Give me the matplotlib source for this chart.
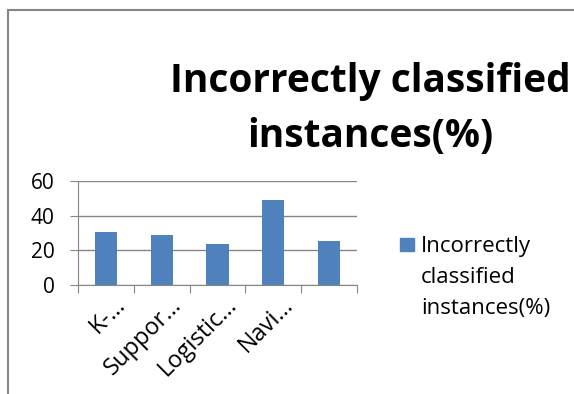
import numpy as np
import matplotlib.pyplot as plt
from matplotlib.patches import Rectangle
from matplotlib.transforms import ScaledTranslation

labels = ['K-…', 'Suppor…', 'Logistic…', 'Navi…', '']
values = [30.6, 28.9, 23.6, 49.1, 25.4]
series_name = ['Incorrectly', 'classified', 'instances(%)']

plt.rcParams['font.family'] = ['Open Sans', 'DejaVu Sans']
grey = '#868686'
blue = '#4F81BD'

fig = plt.figure(figsize=(5.74, 3.94), dpi=100)

# outer chart border, running off the right and bottom edges
fig.patches.append(Rectangle((8 / 574, -0.1), 1.2, 1 - 10 / 394 + 0.1,
                             transform=fig.transFigure, fill=False,
                             edgecolor=grey, linewidth=1.5))

ax = fig.add_axes([78 / 574, 1 - 285 / 394, 279 / 574, 104 / 394])
x = np.arange(len(values))
ax.bar(x, values, width=0.4, color=blue, zorder=3)
ax.set_xlim(-0.5, len(values) - 0.5)
ax.set_ylim(0, 60)
ax.set_yticks([0, 20, 40, 60])
ax.grid(axis='y', color=grey, linewidth=1, zorder=0)
for s in ['top', 'right']:
    ax.spines[s].set_visible(False)
for s in ['left', 'bottom']:
    ax.spines[s].set_color(grey)
ax.tick_params(axis='y', length=5.8, color=grey, labelsize=15, pad=11)

# category boundaries get the tick marks, centres get the labels
ax.set_xticks(np.arange(-0.5, len(values) + 0.5, 1))
ax.set_xticklabels([])
ax.tick_params(axis='x', length=5.8, color=grey, direction='out')
ax.set_xticks(x, minor=True)
ax.set_xticklabels(labels, minor=True, rotation=45, ha='right', va='center',
                   rotation_mode='anchor', fontsize=17)
ax.tick_params(axis='x', which='minor', length=0, pad=12)
shift = ScaledTranslation(0.16, 0, fig.dpi_scale_trans)
for t in ax.get_xticklabels(minor=True):
    t.set_transform(t.get_transform() + shift)

fig.text(0.645, 1 - 92 / 394, 'Incorrectly classified', ha='center',
         va='baseline', fontsize=28, fontweight='bold')
fig.text(0.645, 1 - 147 / 394, 'instances(%)', ha='center',
         va='baseline', fontsize=28, fontweight='bold')

# legend
fig.patches.append(Rectangle((400 / 574, 1 - 251 / 394), 14 / 574, 13 / 394,
                             transform=fig.transFigure, color=blue))
for i, line in enumerate(series_name):
    fig.text(421 / 574, 1 - (252 + 31 * i) / 394, line, ha='left',
             va='baseline', fontsize=16)

fig.savefig('out.png', dpi=100)
